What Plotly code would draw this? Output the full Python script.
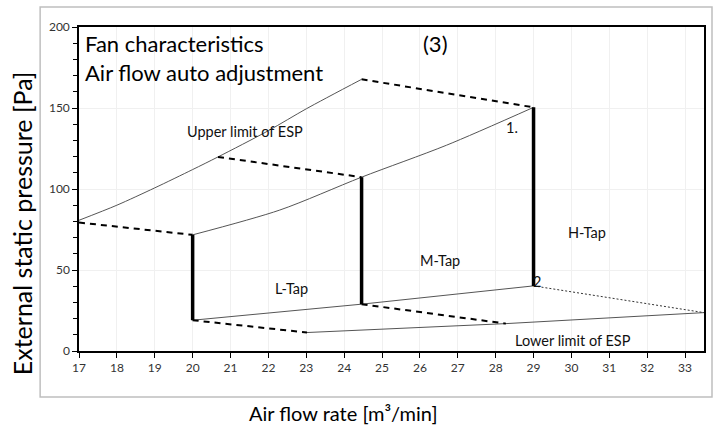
import plotly.graph_objects as go

# ---- data ----
upper_x = [17, 18, 19, 20, 20.67, 22, 23, 24.46]
upper_y = [80.7, 90, 100.7, 112, 119.8, 136, 149.5, 167.7]

mid_x = [20, 22.3, 24.46, 26.7, 29]
mid_y = [71.7, 87, 107.3, 127, 150.4]

low_x = [20, 24.46, 29]
low_y = [19, 28.9, 40.2]

lowlim_x = [23.02, 28.27, 33.5]
lowlim_y = [11.4, 16.9, 23.7]

dash_segments = [
    ([17, 20], [79.3, 71.7]),
    ([20.67, 24.46], [119.8, 107.3]),
    ([24.46, 29], [167.7, 150.4]),
    ([20, 23.02], [19, 11.4]),
    ([24.46, 28.27], [28.9, 16.9]),
]
dotted_segment = ([29, 33.5], [40.2, 23.7])

tap_x = [20, 24.46, 29]
tap_bottom = [19, 28.9, 40.2]
tap_top = [71.7, 107.3, 150.4]

x_ticks = list(range(17, 34))
y_ticks = [0, 50, 100, 150, 200]

labels = [
    ("Upper limit of ESP", 21.39, 135.7),
    ("1.", 28.42, 138.0),
    ("2", 29.1, 42.6),
    ("H-Tap", 30.42, 73.3),
    ("M-Tap", 26.53, 56.0),
    ("L-Tap", 22.6, 38.7),
    ("Lower limit of ESP", 30.03, 6.6),
]

FONT = "Lato, Open Sans, sans-serif"

fig = go.Figure()

thin = dict(color="#555555", width=1)
fig.add_trace(go.Scatter(x=upper_x, y=upper_y, mode="lines", line=dict(shape="spline", smoothing=0.8, **thin)))
fig.add_trace(go.Scatter(x=mid_x, y=mid_y, mode="lines", line=dict(shape="spline", smoothing=0.8, **thin)))
fig.add_trace(go.Scatter(x=low_x, y=low_y, mode="lines", line=thin))
fig.add_trace(go.Scatter(x=lowlim_x, y=lowlim_y, mode="lines", line=thin))

for sx, sy in dash_segments:
    fig.add_trace(go.Scatter(x=sx, y=sy, mode="lines",
                             line=dict(color="black", width=2, dash="6px,5px")))
fig.add_trace(go.Scatter(x=dotted_segment[0], y=dotted_segment[1], mode="lines",
                         line=dict(color="#333333", width=1, dash="2px,2px")))

for x, b, t in zip(tap_x, tap_bottom, tap_top):
    fig.add_trace(go.Scatter(x=[x, x], y=[b, t], mode="lines",
                             line=dict(color="black", width=3.5)))

for text, x, y in labels:
    fig.add_annotation(x=x, y=y, text=text, showarrow=False,
                       font=dict(family=FONT, size=14.5, color="#111111"))

fig.add_annotation(x=17.1, y=190, text="Fan characteristics", showarrow=False,
                   xanchor="left", font=dict(family=FONT, size=22, color="black"))
fig.add_annotation(x=17.1, y=172, text="Air flow auto adjustment", showarrow=False,
                   xanchor="left", font=dict(family=FONT, size=22, color="black"))
fig.add_annotation(x=26.42, y=190, text="(3)", showarrow=False,
                   font=dict(family=FONT, size=22, color="black"))

fig.add_annotation(xref="paper", yref="paper", x=-0.0909, y=0.395,
                   xanchor="center", yanchor="middle",
                   text="External static pressure [Pa]", textangle=-90, showarrow=False,
                   font=dict(family=FONT, size=25, color="black"))
fig.add_annotation(xref="paper", yref="paper", x=0.4226, y=-0.19,
                   xanchor="center", yanchor="middle",
                   text="Air flow rate [m³/min]", showarrow=False,
                   font=dict(family=FONT, size=20, color="black"))

fig.add_shape(type="rect", xref="paper", yref="paper",
              x0=-0.0622, x1=1.0128, y0=-0.142, y1=1.0617,
              line=dict(color="#bfbfbf", width=1.5), layer="below")

fig.update_layout(
    width=715, height=425,
    margin=dict(l=79, r=9, t=27, b=74),
    plot_bgcolor="white", paper_bgcolor="white",
    showlegend=False,
    font=dict(family=FONT),
)
fig.update_xaxes(range=[17, 33.5], tickvals=x_ticks, ticks="outside", ticklen=5,
                 tickcolor="black", showline=True, linecolor="black", linewidth=1.5,
                 mirror=True, showgrid=True, gridcolor="#f0f0f0", zeroline=False,
                 tickfont=dict(size=12, color="#333333", family=FONT))
fig.update_yaxes(range=[0, 200], tickvals=y_ticks, ticks="outside", ticklen=5,
                 tickcolor="black", showline=True, linecolor="black", linewidth=1.5,
                 mirror=True, showgrid=True, gridcolor="#f0f0f0", zeroline=False,
                 minor=dict(dtick=10, ticks="outside", ticklen=4, tickcolor="black", showgrid=False),
                 tickfont=dict(size=12, color="#333333", family=FONT))

fig.write_html("out.html", config={"displayModeBar": False},
               post_script="document.body.style.margin='0';")
